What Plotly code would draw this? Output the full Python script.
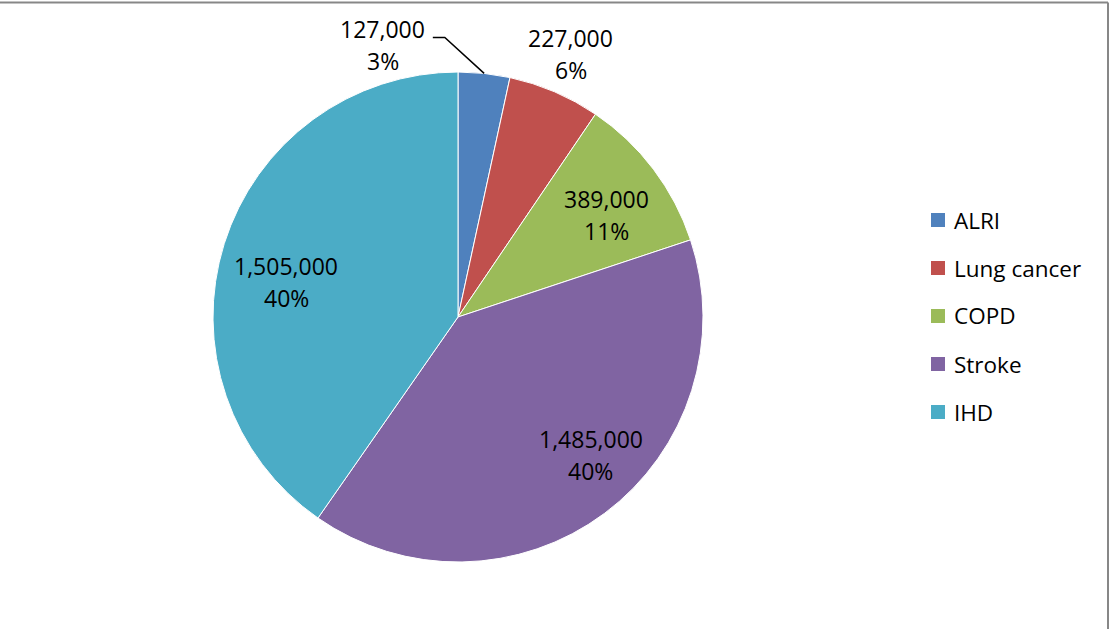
import math
import plotly.graph_objects as go

# ---- data ----
categories = ["ALRI", "Lung cancer", "COPD", "Stroke", "IHD"]
deaths = [127000, 227000, 389000, 1485000, 1505000]
colors = ["#4F81BD", "#C0504D", "#9BBB59", "#8064A2", "#4BACC6"]

# ---- label styling (radius as fraction of pie radius, angular shift in degrees) ----
label_radius = [1.15, 1.167, 0.734, 0.782, 0.716]
label_shift = [-21.6, 0.0, 2.5, -7.2, -5.9]

W, H = 1109, 629
CX, CY, R = 458, 317, 245  # pie centre/radius in pixels

dom_x = [(CX - R) / W, (CX + R) / W]
dom_y = [1 - (CY + R) / H, 1 - (CY - R) / H]

fig = go.Figure()
fig.add_trace(go.Pie(
    labels=categories, values=deaths, sort=False, direction="clockwise",
    rotation=0, marker=dict(colors=colors, line=dict(color="white", width=1)),
    textinfo="none", hoverinfo="label+value+percent", showlegend=False,
    domain=dict(x=dom_x, y=dom_y),
))

total = sum(deaths)

# percentages rounded so they sum to 100 (largest remainder, as Excel does)
raw = [v / total * 100 for v in deaths]
pcts = [math.floor(p) for p in raw]
order = sorted(range(len(raw)), key=lambda k: raw[k] - pcts[k], reverse=True)
for k in order[: 100 - sum(pcts)]:
    pcts[k] += 1

font = dict(family="Open Sans", size=23, color="black")
annotations = []
shapes = []
cum = 0
for i, (cat, v) in enumerate(zip(categories, deaths)):
    frac = v / total
    mid = (cum + frac / 2) * 360
    cum += frac
    ang = math.radians(mid + label_shift[i])
    r = label_radius[i] * R
    px = CX + r * math.sin(ang)
    py = CY - r * math.cos(ang)
    for txt, ys in ((f"{v:,}", 16), (f"{pcts[i]}%", -16)):
        annotations.append(dict(x=px / W, y=1 - py / H, xref="paper", yref="paper",
                                text=txt, showarrow=False, font=font, yshift=ys,
                                xanchor="center", yanchor="middle"))
    if label_radius[i] > 1.0 and abs(label_shift[i]) > 5:
        # leader line from slice edge to label
        ea = math.radians(mid)
        ex = CX + R * math.sin(ea)
        ey = CY - R * math.cos(ea)
        elx, ely = px + 62, py - 8
        enx, eny = px + 50, py - 8
        shapes.append(dict(type="path", xref="paper", yref="paper",
                           path=f"M {ex/W},{1-ey/H} L {elx/W},{1-ely/H} L {enx/W},{1-eny/H}",
                           line=dict(color="black", width=1.5)))

# ---- manual legend ----
leg_x0, leg_y0, leg_step, sq = 931, 220, 48, 14
for i, cat in enumerate(categories):
    yc = leg_y0 + i * leg_step
    shapes.append(dict(type="rect", xref="paper", yref="paper",
                       x0=leg_x0 / W, x1=(leg_x0 + sq) / W,
                       y0=1 - (yc + sq / 2) / H, y1=1 - (yc - sq / 2) / H,
                       fillcolor=colors[i], line=dict(width=0)))
    annotations.append(dict(x=(leg_x0 + sq + 7) / W, y=1 - yc / H, xref="paper", yref="paper",
                            text=cat, showarrow=False, xanchor="left", yanchor="middle",
                            font=dict(family="Open Sans", size=22.5, color="black")))

# ---- chart border (top and right) ----
shapes.append(dict(type="line", xref="paper", yref="paper", x0=0, x1=1108 / W,
                   y0=1 - 2.5 / H, y1=1 - 2.5 / H, line=dict(color="#878787", width=2)))
shapes.append(dict(type="line", xref="paper", yref="paper", x0=1108 / W, x1=1108 / W,
                   y0=0, y1=1 - 2.5 / H, line=dict(color="#878787", width=2)))

fig.update_layout(
    width=W, height=H, margin=dict(l=0, r=0, t=0, b=0),
    paper_bgcolor="white", plot_bgcolor="white",
    annotations=annotations, shapes=shapes, showlegend=False,
    font=dict(family="Open Sans"),
)

fig.write_html("out.html")
